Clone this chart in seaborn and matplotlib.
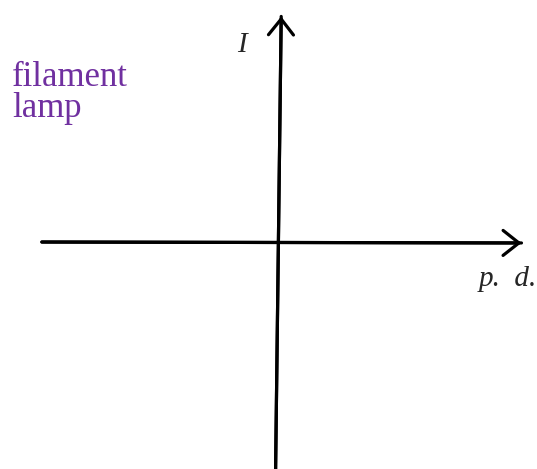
import numpy as np
import pandas as pd
import matplotlib.pyplot as plt
import seaborn as sns

# axis end points (arbitrary units, origin where the axes cross)
pd_axis_x = [-5.0, 5.2]
pd_axis_y = [0.0, -0.02]
i_axis_x = [-0.03, 0.09]
i_axis_y = [-4.9, 4.8]

title_lines = ["filament", "lamp"]
x_label = "p.  d."
y_label = "I"

sns.set_theme(style="white")
plt.rcParams['font.family'] = ['Liberation Serif', 'DejaVu Serif']

fig = plt.figure(figsize=(5.37, 4.69), dpi=100)
ax = fig.add_axes([0, 0, 1, 1])

# horizontal axis (p.d.) and vertical axis (I)
sns.lineplot(x=pd_axis_x, y=pd_axis_y, ax=ax,
             color="black", linewidth=2.3, sort=False)
sns.lineplot(x=i_axis_x, y=i_axis_y, ax=ax,
             color="black", linewidth=2.3, sort=False, orient="y")

# arrow heads follow the direction of each axis line
arrow = dict(arrowstyle="->,head_length=0.95,head_width=0.75",
             color="black", lw=2.3, shrinkA=0, shrinkB=0)
ax.annotate("", xy=(pd_axis_x[1], pd_axis_y[1]),
            xytext=(pd_axis_x[0], pd_axis_y[0]), arrowprops=arrow)
ax.annotate("", xy=(i_axis_x[1], i_axis_y[1]),
            xytext=(i_axis_x[0], i_axis_y[0]), arrowprops=arrow)

ax.text(-0.74, 4.2, y_label, fontsize=21, fontstyle="italic",
        ha="center", va="center")
ax.text(5.53, -0.78, x_label, fontsize=21, fontstyle="italic",
        ha="right", va="center")
ax.text(-5.64, 3.33, title_lines[0], fontsize=25, color="#7030A0",
        ha="left", va="baseline")
ax.text(-5.64, 2.67, title_lines[1], fontsize=25, color="#7030A0",
        ha="left", va="baseline")

ax.set_xlim(-5.89, 5.53)
ax.set_ylim(-4.83, 5.15)
ax.axis("off")

fig.savefig("out.png", dpi=100)
